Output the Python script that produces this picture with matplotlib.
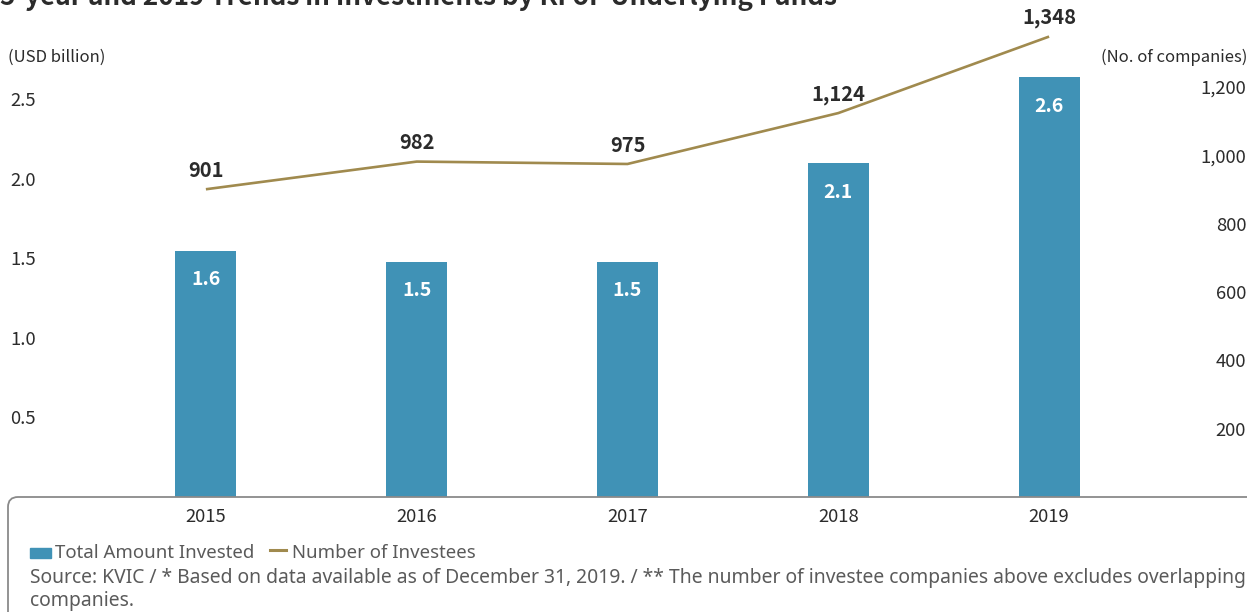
import matplotlib
matplotlib.use("Agg")
import matplotlib.pyplot as plt
from matplotlib.path import Path
from matplotlib.patches import PathPatch

plt.rcParams["font.family"] = ["Noto Sans CJK KR", "DejaVu Sans"]

YEARS = ["2015", "2016", "2017", "2018", "2019"]
AMOUNT = [1.55, 1.48, 1.48, 2.10, 2.64]          # USD billion
AMOUNT_LABELS = ["1.6", "1.5", "1.5", "2.1", "2.6"]
INVESTEES = [901, 982, 975, 1124, 1348]          # no. of companies
LEFT_TICKS = [0.5, 1.0, 1.5, 2.0, 2.5]
RIGHT_TICKS = [200, 400, 600, 800, 1000, 1200]

BAR_COLOR = "#4092b6"
LINE_COLOR = "#a08a4e"
TEXT_DARK = "#2b2b2b"
TEXT_GRAY = "#5a5a5a"
NOTE_FONT = ["Noto Sans", "DejaVu Sans"]

W, H = 1257, 612
fig = plt.figure(figsize=(W / 100, H / 100), dpi=100)

left_px, right_px = 100.5, 1154.5
base_px, top_px = 497, 4
ax = fig.add_axes([left_px / W, 1 - base_px / H,
                   (right_px - left_px) / W, (base_px - top_px) / H])
ax2 = ax.twinx()

x = list(range(len(YEARS)))
y_top = 3.1
ax.set_ylim(0, y_top)
ax2.set_ylim(0, y_top * 465.6)
ax.set_xlim(-0.5, len(YEARS) - 0.5)

ax.bar(x, AMOUNT, width=0.29, color=BAR_COLOR, zorder=2)
for xi, v, lab in zip(x, AMOUNT, AMOUNT_LABELS):
    ax.annotate(lab, (xi, v), xytext=(0, -21), textcoords="offset points",
                ha="center", va="center", color="white", fontsize=14,
                fontweight="bold")

ax2.plot(x, INVESTEES, color=LINE_COLOR, lw=1.9, zorder=3,
         solid_capstyle="butt")
for xi, v in zip(x, INVESTEES):
    ax2.annotate(f"{v:,}", (xi, v), xytext=(0, 13.5), textcoords="offset points",
                 ha="center", va="center", color=TEXT_DARK, fontsize=14.5,
                 fontweight="bold", annotation_clip=False)

for a in (ax, ax2):
    for s in a.spines.values():
        s.set_visible(False)
    a.tick_params(length=0)

ax.set_xticks(x)
ax.set_xticklabels(YEARS)
ax.tick_params(axis="x", labelsize=13.3, labelcolor=TEXT_DARK, pad=8)

ax.set_yticks(LEFT_TICKS)
ax.set_yticklabels([f"{t:.1f}" for t in LEFT_TICKS])
ax.tick_params(axis="y", labelsize=13.3, labelcolor=TEXT_DARK, pad=65)
for t in ax.get_yticklabels():
    t.set_horizontalalignment("left")

ax2.set_yticks(RIGHT_TICKS)
ax2.set_yticklabels([f"{t:,}" for t in RIGHT_TICKS])
ax2.tick_params(axis="y", labelsize=13.3, labelcolor=TEXT_DARK, pad=66)
for t in ax2.get_yticklabels():
    t.set_horizontalalignment("right")

# title (cut off at the top in the original)
fig.text(0.0, 1 - 5 / H, "5-year and 2019 Trends in Investments by KFoF Underlying Funds",
         fontsize=18.8, fontweight="bold", color=TEXT_DARK, ha="left", va="baseline")
fig.text(8 / W, 1 - 57 / H, "(USD billion)", fontsize=12, color=TEXT_DARK,
         ha="left", va="center")
fig.text(1247 / W, 1 - 57 / H, "(No. of companies)", fontsize=12, color=TEXT_DARK,
         ha="right", va="center")

# rounded frame line under the bars
r = 10
yb = H - base_px
verts = [(1247, yb), (8 + r, yb), (8, yb), (8, yb - r), (8, -5)]
codes = [Path.MOVETO, Path.LINETO, Path.CURVE3, Path.CURVE3, Path.LINETO]
frame = PathPatch(Path([(vx / W, vy / H) for vx, vy in verts], codes),
                  transform=fig.transFigure, fill=False, edgecolor="#8a8a8a",
                  lw=1.3, zorder=5)
fig.add_artist(frame)

# legend row
fig.patches.append(plt.Rectangle((30 / W, 1 - 558 / H), 21 / W, 10 / H,
                                 transform=fig.transFigure, color=BAR_COLOR))
fig.text(55 / W, 1 - 553 / H, "Total Amount Invested", fontsize=13.4,
         family=NOTE_FONT, color=TEXT_GRAY, ha="left", va="center")
fig.lines.append(plt.Line2D([270 / W, 286 / W], [1 - 550 / H, 1 - 550 / H],
                            transform=fig.transFigure, color=LINE_COLOR, lw=2.2))
fig.text(292 / W, 1 - 553 / H, "Number of Investees", fontsize=13.4,
         family=NOTE_FONT, color=TEXT_GRAY, ha="left", va="center")

fig.text(30 / W, 1 - 578 / H,
         "Source: KVIC / * Based on data available as of December 31, 2019. / "
         "** The number of investee companies above excludes overlapping",
         fontsize=13.9, family=NOTE_FONT, color=TEXT_GRAY, ha="left", va="center")
fig.text(30 / W, 1 - 601 / H, "companies.", fontsize=13.9, family=NOTE_FONT,
         color=TEXT_GRAY, ha="left", va="center")

fig.savefig("out.png", dpi=100)
